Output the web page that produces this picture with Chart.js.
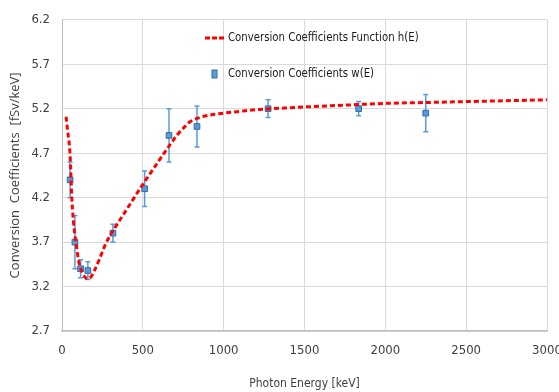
<!DOCTYPE html>
<html>
<head>
<meta charset="utf-8">
<script src="https://cdn.jsdelivr.net/npm/chart.js@4.4.1"></script>
<style>
  html, body { margin: 0; padding: 0; background: #fff; }
  #wrap { width: 559px; height: 392px; }
</style>
</head>
<body>
<div id="wrap"><canvas id="c" width="559" height="392"></canvas></div>
<script>
  // fitted function h(E)
  var hEnergy = [25, 35, 50, 60, 70, 80, 90, 100, 110, 125, 140, 155, 165, 180, 200, 230, 270, 320, 380, 440,
    500, 560, 620, 670, 710, 750, 790, 850, 920, 1000, 1100, 1200, 1300, 1500, 1750, 2000, 2250, 2500, 2750, 3000];
  var hValue = [5.11, 4.95, 4.68, 4.22, 3.95, 3.78, 3.65, 3.52, 3.43, 3.36, 3.31, 3.29, 3.29, 3.31, 3.38, 3.50, 3.68, 3.84, 4.01, 4.18,
    4.35, 4.51, 4.67, 4.80, 4.90, 4.98, 5.05, 5.10, 5.13, 5.15, 5.17, 5.19, 5.20, 5.22, 5.24, 5.26, 5.27, 5.28, 5.29, 5.30];

  // measured coefficients w(E) with error bars
  var wEnergy = [50, 80, 115, 160, 315, 511, 662, 835, 1275, 1835, 2250];
  var wValue = [4.40, 3.70, 3.40, 3.38, 3.80, 4.30, 4.90, 5.00, 5.20, 5.20, 5.15];
  var wError = [0.20, 0.30, 0.10, 0.10, 0.10, 0.20, 0.30, 0.23, 0.10, 0.08, 0.21];

  var xTicks = [0, 500, 1000, 1500, 2000, 2500, 3000];
  var yTicks = [2.7, 3.2, 3.7, 4.2, 4.7, 5.2, 5.7, 6.2];

  var NARROW = "'Liberation Sans Narrow', 'DejaVu Sans Condensed', 'Roboto Condensed', Roboto, sans-serif";
  var LINE_RED = '#FF0000';
  var BLUE = '#5B9BD5';
  var BLUE_DARK = '#2E6DA8';

  var errorBars = {
    id: 'errorBars',
    beforeDatasetsDraw: function (chart) {
      var ctx = chart.ctx;
      var xs = chart.scales.x, ys = chart.scales.y;
      ctx.save();
      ctx.strokeStyle = BLUE;
      ctx.lineWidth = 1.5;
      for (var i = 0; i < wEnergy.length; i++) {
        var px = xs.getPixelForValue(wEnergy[i]);
        var top = ys.getPixelForValue(wValue[i] + wError[i]);
        var bot = ys.getPixelForValue(wValue[i] - wError[i]);
        ctx.beginPath();
        ctx.moveTo(px, top); ctx.lineTo(px, bot);
        ctx.moveTo(px - 2.5, top); ctx.lineTo(px + 2.5, top);
        ctx.moveTo(px - 2.5, bot); ctx.lineTo(px + 2.5, bot);
        ctx.stroke();
      }
      ctx.restore();
    }
  };

  // legend sits inside the plot, text squeezed a bit to look like the narrow original
  function squeezedText(ctx, text, x, y) {
    ctx.save();
    ctx.translate(x, y);
    ctx.scale(0.87, 1);
    ctx.fillText(text, 0, 0);
    ctx.restore();
  }

  var innerLegend = {
    id: 'innerLegend',
    afterDraw: function (chart) {
      var ctx = chart.ctx;
      ctx.save();
      ctx.font = '13px ' + NARROW;
      ctx.fillStyle = '#1a1a1a';
      ctx.textBaseline = 'middle';
      // function entry
      ctx.strokeStyle = LINE_RED;
      ctx.lineWidth = 3;
      ctx.setLineDash([5, 2]);
      ctx.beginPath();
      ctx.moveTo(205, 38); ctx.lineTo(226, 38);
      ctx.stroke();
      ctx.setLineDash([]);
      squeezedText(ctx, chart.data.datasets[0].label, 228, 38);
      // data entry
      ctx.fillStyle = BLUE;
      ctx.strokeStyle = BLUE_DARK;
      ctx.lineWidth = 1;
      ctx.fillRect(212, 70, 5, 8);
      ctx.strokeRect(212, 70, 5, 8);
      ctx.fillStyle = '#1a1a1a';
      squeezedText(ctx, chart.data.datasets[1].label, 228, 74);
      ctx.restore();
    }
  };

  new Chart(document.getElementById('c'), {
    type: 'scatter',
    data: {
      datasets: [{
        type: 'line',
        label: 'Conversion Coefficients Function h(E)',
        data: hEnergy.map(function (e, i) { return { x: e, y: hValue[i] }; }),
        borderColor: LINE_RED,
        borderWidth: 3,
        borderDash: [5, 3],
        pointRadius: 0,
        fill: false,
        cubicInterpolationMode: 'monotone',
        order: 1
      }, {
        label: 'Conversion Coefficients w(E)',
        data: wEnergy.map(function (e, i) { return { x: e, y: wValue[i] }; }),
        pointStyle: 'rect',
        pointRadius: 4,
        backgroundColor: BLUE,
        borderColor: BLUE_DARK,
        borderWidth: 1,
        order: 2
      }]
    },
    options: {
      responsive: false,
      animation: false,
      layout: { padding: { top: 19, right: 0, left: 0, bottom: 0 } },
      plugins: {
        legend: { display: false },
        tooltip: { enabled: false }
      },
      scales: {
        x: {
          type: 'linear',
          min: 0, max: 3000,
          afterBuildTicks: function (s) { s.ticks = xTicks.map(function (v) { return { value: v }; }); },
          afterFit: function (s) { s.height = 61; s.paddingRight = 12; },
          ticks: {
            font: { family: NARROW, size: 13 }, color: '#404040', padding: 12, maxRotation: 0,
            callback: function (v) { return String(v); }
          },
          grid: { color: '#D9D9D9', drawTicks: false },
          border: { color: '#BFBFBF', width: 1.5 },
          title: {
            display: true, text: 'Photon Energy [keV]',
            font: { family: NARROW, size: 12 }, color: '#404040',
            padding: { top: 0, bottom: 1 }
          }
        },
        y: {
          min: 2.7, max: 6.2,
          afterBuildTicks: function (s) { s.ticks = yTicks.map(function (v) { return { value: v }; }); },
          afterFit: function (s) { s.width = 62; },
          ticks: {
            font: { family: NARROW, size: 13 }, color: '#404040', padding: 12,
            callback: function (v) { return Number(v).toFixed(1); }
          },
          grid: { color: '#D9D9D9', drawTicks: false },
          border: { color: '#BFBFBF' },
          title: {
            display: true, text: 'Conversion  Coefficients  [fSv/keV]',
            font: { family: "'Open Sans', sans-serif", size: 13 }, color: '#404040',
            padding: { top: 7, bottom: 0 }
          }
        }
      }
    },
    plugins: [errorBars, innerLegend]
  });
</script>
</body>
</html>
